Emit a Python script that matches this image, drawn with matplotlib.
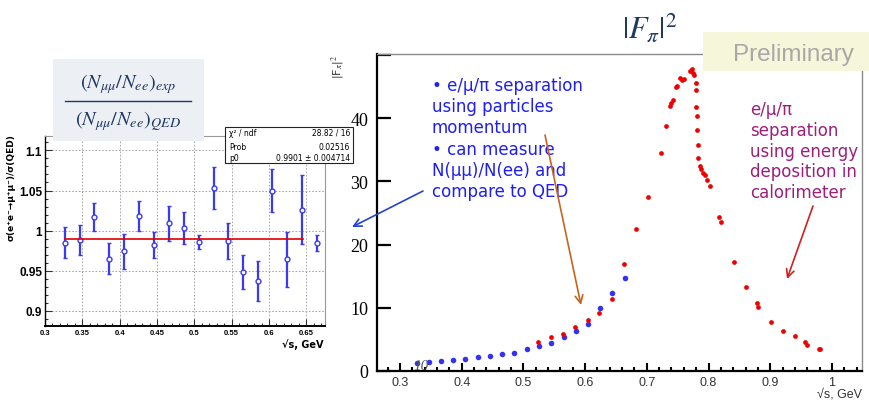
import matplotlib
matplotlib.use("Agg")
import matplotlib.pyplot as plt
from matplotlib.patches import Rectangle
from matplotlib.ticker import MultipleLocator

plt.rcParams["mathtext.fontset"] = "stix"

# --- left panel: mu mu / ee ratio normalised to QED ---
ratio_x = [0.327, 0.347, 0.366, 0.386, 0.406, 0.426, 0.446, 0.466, 0.486,
           0.506, 0.526, 0.545, 0.565, 0.585, 0.604, 0.624, 0.644, 0.664]
ratio_y = [0.985, 0.988, 1.017, 0.965, 0.974, 1.018, 0.982, 1.009, 1.003,
           0.986, 1.053, 0.987, 0.948, 0.937, 1.050, 0.964, 1.026, 0.985]
ratio_err = [0.019, 0.019, 0.017, 0.019, 0.022, 0.019, 0.016, 0.022, 0.020,
             0.009, 0.026, 0.023, 0.021, 0.025, 0.027, 0.034, 0.043, 0.010]
fit_p0 = 0.9901
fit_x = [0.327, 0.645]
left_yticks = [0.9, 0.95, 1.0, 1.05, 1.1]
left_ylabels = ["0.9", "0.95", "1", "1.05", "1.1"]
left_xticks = [0.3, 0.35, 0.4, 0.45, 0.5, 0.55, 0.6, 0.65]
left_xlabels = ["0.3", "0.35", "0.4", "0.45", "0.5", "0.55", "0.6", "0.65"]
stats_rows = [("χ² / ndf", "28.82 / 16"), ("Prob", "0.02516"),
              ("p0", "0.9901 ± 0.004714")]

# --- right panel: pion form factor ---
blue_x = [0.327, 0.347, 0.366, 0.386, 0.406, 0.426, 0.446, 0.466, 0.485,
          0.505, 0.525, 0.545, 0.565, 0.585, 0.604, 0.624, 0.644, 0.664]
blue_y = [1.22, 1.43, 1.54, 1.65, 1.80, 2.17, 2.38, 2.60, 2.85,
          3.38, 3.86, 4.44, 5.29, 6.34, 7.45, 9.9, 12.27, 14.74]
red_x = [0.524, 0.544, 0.564, 0.584, 0.604, 0.623, 0.643, 0.663, 0.682,
         0.702, 0.7225, 0.731, 0.7375, 0.740, 0.742, 0.7475, 0.749, 0.753,
         0.757, 0.761, 0.770, 0.773, 0.775, 0.776, 0.779, 0.780, 0.780,
         0.781, 0.781, 0.7825, 0.7835, 0.786, 0.788, 0.7915, 0.795, 0.798,
         0.8026, 0.817, 0.8197, 0.841, 0.861, 0.878, 0.881, 0.901, 0.920,
         0.940, 0.956, 0.960, 0.979, 0.981]
red_y = [4.5, 5.29, 5.82, 6.87, 8.03, 9.12, 11.4, 16.96, 22.46,
         27.6, 34.5, 38.8, 41.9, 42.4, 42.9, 44.9, 45.2, 46.4,
         46.0, 46.3, 47.5, 47.8, 47.2, 46.8, 45.6, 44.5, 41.8,
         40.3, 38.2, 35.7, 33.7, 32.5, 31.9, 31.4, 31.0, 30.3,
         29.2, 24.3, 23.6, 17.3, 13.3, 10.7, 10.1, 7.77, 6.34,
         5.55, 4.6, 4.07, 3.44, 3.44]
right_yticks = [0, 10, 20, 30, 40, 50]
right_ylabels = ["0", "10", "20", "30", "40", ""]
right_xticks = [0.3, 0.4, 0.5, 0.6, 0.7, 0.8, 0.9, 1.0]
right_xlabels = ["0.3", "0.4", "0.5", "0.6", "0.7", "0.8", "0.9", "1"]

blue_note = ["• e/μ/π separation", "using particles", "momentum",
             "• can measure", "N(μμ)/N(ee) and", "compare to QED"]
purple_note = ["e/μ/π", "separation", "using energy", "deposition in",
               "calorimeter"]

W, H = 870, 402
fig = plt.figure(figsize=(W / 100, H / 100), dpi=100)

# left panel
ax1 = fig.add_axes([45 / W, 1 - 327 / H, 280 / W, 190 / H])
ax1.errorbar(ratio_x, ratio_y, yerr=ratio_err, fmt="o", color="#3a3aee",
             ms=3.5, mfc="white", mec="#3a3aee", mew=1.0, elinewidth=1.6,
             capsize=1.5, zorder=3)
ax1.plot(fit_x, [fit_p0, fit_p0], color="#e00000", lw=1.2, zorder=4)
ax1.set_xlim(0.3, 0.675)
ax1.set_ylim(0.881, 1.118)
ax1.set_xticks(left_xticks)
ax1.set_xticklabels(left_xlabels, fontsize=5.5, fontweight="bold",
                    family="Liberation Sans")
ax1.set_yticks(left_yticks)
ax1.set_yticklabels(left_ylabels, fontsize=8.5, fontweight="bold",
                    family="Liberation Sans")
ax1.xaxis.set_minor_locator(MultipleLocator(0.01))
ax1.yaxis.set_minor_locator(MultipleLocator(0.01))
ax1.tick_params(which="both", direction="in", color="#333333", width=0.8)
ax1.tick_params(which="major", length=5, pad=2)
ax1.tick_params(which="minor", length=2.5)
ax1.grid(True, which="major", color="#9a9a9a", lw=0.6, ls=(0, (2, 2)))
for side in ["top", "right"]:
    ax1.spines[side].set_color("#999999")
    ax1.spines[side].set_linewidth(0.8)
ax1.spines["left"].set_linewidth(1.0)
ax1.spines["bottom"].set_linewidth(1.4)

# right panel
ax2 = fig.add_axes([376.7 / W, 1 - 371.7 / H, 485 / W, 316.7 / H])
ax2.plot(blue_x, blue_y, "o", color="#3333ee", ms=4.0, mew=0, zorder=3)
ax2.plot(red_x, red_y, "o", color="#ee0000", ms=3.4, mew=0, zorder=4)
ax2.set_xlim(0.2622, 1.0483)
ax2.set_ylim(0, 50.2)
ax2.set_yticks(right_yticks)
ax2.set_yticklabels(right_ylabels, fontsize=13, family="Liberation Serif")
ax2.set_xticks(right_xticks)
ax2.set_xticklabels(right_xlabels, fontsize=9, family="Liberation Sans",
                    color="#333333")
ax2.xaxis.set_minor_locator(MultipleLocator(0.02))
ax2.tick_params(axis="y", direction="in", length=10, width=1.6, pad=6)
ax2.tick_params(axis="x", which="major", direction="in", length=5.5,
                width=1.5, pad=4)
ax2.tick_params(axis="x", which="minor", direction="in", length=3, width=1.5)
ax2.spines["left"].set_linewidth(1.6)
ax2.spines["bottom"].set_linewidth(1.6)
for side in ["top", "right"]:
    ax2.spines[side].set_color("#8a8a8a")
    ax2.spines[side].set_linewidth(1.0)

# overlay in pixel coordinates for slide annotations
ov = fig.add_axes([0, 0, 1, 1], zorder=10)
ov.set_xlim(0, W)
ov.set_ylim(H, 0)
ov.axis("off")

navy = "#1f3864"
ov.add_patch(Rectangle((53, 60), 151, 82, fc="#eceff4", ec="none"))
ov.text(128, 84, r"$(N_{\mu\mu}/N_{ee})_{exp}$", fontsize=14.5, color=navy,
        ha="center", va="center")
ov.plot([65, 191], [102, 102], color=navy, lw=1.0)
ov.text(128, 121, r"$(N_{\mu\mu}/N_{ee})_{QED}$", fontsize=14.5, color=navy,
        ha="center", va="center")

ov.add_patch(Rectangle((225, 128), 128, 36, fc="white", ec="#222222", lw=0.8))
for (name, val), yy in zip(stats_rows, [133.5, 147.5, 158.5]):
    ov.text(229, yy, name, fontsize=5.5, ha="left", va="center")
    ov.text(350, yy, val, fontsize=5.5, ha="right", va="center")

ov.text(11, 188, "σ(e⁺e⁻→μ⁺μ⁻)/σ(QED)", rotation=90, fontsize=6.5,
        fontweight="bold", ha="center", va="center")
ov.text(324, 345, "√s, GeV", fontsize=7, fontweight="bold", ha="right",
        va="center")

ov.text(650, 28, r"$|F_\pi|^2$", fontsize=22, color=navy, ha="center",
        va="center")
ov.add_patch(Rectangle((703, 33), 170, 39, fc="#f6f7da", ec="none"))
ov.text(793, 61, "Preliminary", fontsize=17.5, color="#a8a8a8",
        family="Liberation Sans", ha="center", va="baseline")

ov.text(338, 67, r"|F$_{\pi}$|$^{2}$", rotation=90, fontsize=8,
        color="#333333", ha="center", va="center")
ov.text(862, 395, "√s, GeV", fontsize=9, family="Liberation Sans",
        color="#333333", ha="right", va="center")
ov.text(421, 367, "10", fontsize=11, family="Liberation Serif",
        style="italic", color="#555555", ha="center", va="center")

for i, line in enumerate(blue_note):
    ov.text(432, 86 + 21.2 * i, line, fontsize=12, color="#1f1ff0",
            ha="left", va="center")
for i, line in enumerate(purple_note):
    ov.text(750, 110 + 20.8 * i, line, fontsize=12, color="#9c1f7c",
            ha="left", va="center")

arrow_kw = dict(arrowstyle="->", lw=1.2, shrinkA=0, shrinkB=0,
                mutation_scale=14)
ov.annotate("", xy=(352, 228), xytext=(423, 192),
            arrowprops=dict(color="#2244cc", **arrow_kw))
ov.annotate("", xy=(581, 306), xytext=(545, 136),
            arrowprops=dict(color="#c8641e", **arrow_kw))
ov.annotate("", xy=(787, 280), xytext=(813, 207),
            arrowprops=dict(color="#cc2222", **arrow_kw))

fig.savefig("out.png", dpi=100)
